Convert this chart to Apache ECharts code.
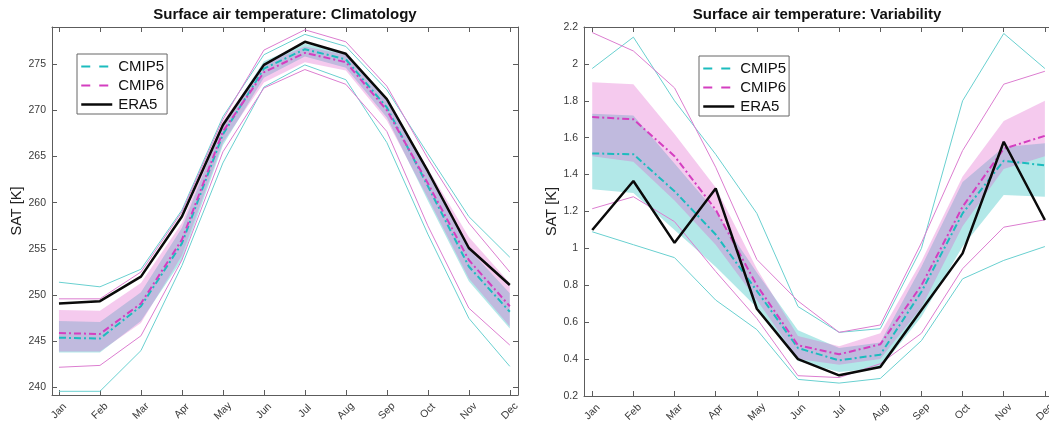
<!DOCTYPE html>
<html>
<head>
<meta charset="utf-8">
<script src="https://cdn.jsdelivr.net/npm/echarts@6/dist/echarts.min.js"></script>
<style>
  html, body { margin: 0; background: #fff; }
  #chart { width: 1049px; height: 425px; }
</style>
</head>
<body>
<div id="chart"></div>
<script>
// month labels and positions (1..12)
const months = ['Jan', 'Feb', 'Mar', 'Apr', 'May', 'Jun', 'Jul', 'Aug', 'Sep', 'Oct', 'Nov', 'Dec'];
const monthPos = [1, 2, 3, 4, 5, 6, 7, 8, 9, 10, 11, 12];
const climTicks = [240, 245, 250, 255, 260, 265, 270, 275];

// Climatology [K]
const era5Clim = [249.1, 249.35, 252.0, 258.5, 268.4, 274.9, 277.4, 276.1, 271.2, 263.4, 255.1, 251.1];
const cmip5ClimMean = [245.4, 245.3, 248.8, 255.6, 267.4, 274.5, 276.6, 275.5, 270.3, 261.8, 253.1, 248.2];
const cmip6ClimMean = [245.9, 245.8, 249.1, 256.0, 267.7, 274.1, 276.2, 275.2, 270.0, 262.1, 253.8, 248.8];
const cmip5ClimLo = [243.8, 243.8, 247.2, 253.8, 266.2, 273.5, 275.8, 274.6, 269.2, 260.2, 251.5, 246.4];
const cmip5ClimHi = [247.2, 247.1, 250.3, 257.3, 268.5, 275.3, 277.2, 276.2, 271.2, 263.2, 255.0, 250.2];
const cmip6ClimLo = [243.9, 243.9, 247.0, 254.3, 266.5, 273.0, 275.2, 274.3, 268.9, 260.5, 251.8, 246.6];
const cmip6ClimHi = [248.4, 248.3, 251.3, 257.8, 268.8, 275.0, 276.9, 276.0, 271.3, 263.7, 256.3, 251.3];
const cmip5ClimMax = [251.4, 250.9, 252.8, 259.2, 269.3, 276.0, 278.2, 276.9, 272.2, 265.3, 258.5, 254.1];
const cmip5ClimMin = [239.6, 239.6, 244.0, 253.2, 264.3, 272.5, 274.9, 273.3, 266.5, 256.6, 247.5, 242.3];
const cmip6ClimMax = [249.6, 249.6, 252.5, 259.0, 269.0, 276.5, 278.7, 277.4, 272.6, 264.8, 257.8, 252.5];
const cmip6ClimMin = [242.2, 242.4, 245.6, 253.8, 265.5, 272.4, 274.4, 272.8, 267.7, 257.5, 248.6, 244.6];

// Variability [K]
const era5Var = [1.10, 1.365, 1.03, 1.325, 0.673, 0.40, 0.312, 0.357, 0.666, 0.973, 1.578, 1.154];
const cmip5VarMean = [1.515, 1.51, 1.31, 1.075, 0.77, 0.46, 0.393, 0.424, 0.765, 1.19, 1.475, 1.45];
const cmip6VarMean = [1.712, 1.70, 1.50, 1.21, 0.80, 0.475, 0.426, 0.48, 0.80, 1.226, 1.54, 1.61];
const cmip5VarLo = [1.32, 1.30, 1.10, 0.90, 0.68, 0.39, 0.33, 0.35, 0.63, 1.01, 1.29, 1.28];
const cmip5VarHi = [1.73, 1.72, 1.46, 1.20, 0.87, 0.556, 0.46, 0.49, 0.90, 1.36, 1.55, 1.57];
const cmip6VarLo = [1.50, 1.47, 1.26, 1.02, 0.72, 0.40, 0.37, 0.40, 0.68, 1.12, 1.43, 1.50];
const cmip6VarHi = [1.90, 1.89, 1.62, 1.33, 0.89, 0.525, 0.47, 0.54, 0.93, 1.39, 1.69, 1.80];
const cmip5VarMax = [1.975, 2.145, 1.80, 1.51, 1.19, 0.685, 0.545, 0.565, 1.00, 1.80, 2.165, 1.975];
const cmip5VarMin = [1.09, 1.02, 0.95, 0.72, 0.56, 0.29, 0.27, 0.295, 0.50, 0.835, 0.935, 1.01];
const cmip6VarMax = [2.17, 2.07, 1.87, 1.44, 0.94, 0.715, 0.545, 0.585, 1.03, 1.53, 1.89, 1.96];
const cmip6VarMin = [1.215, 1.28, 1.145, 0.875, 0.62, 0.31, 0.30, 0.375, 0.54, 0.89, 1.115, 1.155];

const C5 = 'rgb(28,188,190)';
const C6 = 'rgb(212,62,192)';
const C5thin = 'rgb(105,208,208)';
const C6thin = 'rgb(220,125,208)';
const C5band = 'rgba(0,180,180,0.3)';
const C6band = 'rgba(222,80,200,0.3)';
const axisCol = '#5c5c5c';
const font = 'Liberation Sans';

const pairs = vals => vals.map((v, i) => [monthPos[i], v]);

function band(name, xi, lo, hi, color) {
  return {
    type: 'custom', name, xAxisIndex: xi, yAxisIndex: xi, silent: true,
    data: lo.map((v, i) => [monthPos[i], v, hi[i]]),
    encode: { x: 0, y: [1, 2] },
    renderItem: (params, api) => {
      if (params.dataIndexInside !== 0) return null;
      const top = [], bot = [];
      for (let i = 0; i < params.dataInsideLength; i++) {
        top.push(api.coord([api.value(0, i), api.value(2, i)]));
        bot.push(api.coord([api.value(0, i), api.value(1, i)]));
      }
      return { type: 'polygon', shape: { points: top.concat(bot.reverse()) }, style: { fill: color } };
    },
    z: 1
  };
}

function line(name, xi, vals, color, width, type, z) {
  return {
    type: 'line', name, xAxisIndex: xi, yAxisIndex: xi, data: pairs(vals),
    symbol: 'none', silent: true, animation: false,
    lineStyle: { color, width, type }, itemStyle: { color }, z
  };
}

function xAxes(grid, min, max) {
  const base = {
    gridIndex: grid, type: 'value', min, max,
    splitLine: { show: false },
    axisLine: { lineStyle: { color: axisCol, width: 1 } },
    axisTick: { inside: true, length: 5, customValues: monthPos, lineStyle: { color: axisCol } }
  };
  return [
    Object.assign({}, base, {
      position: 'bottom',
      axisLabel: {
        customValues: monthPos, formatter: v => months[Math.round(v) - 1],
        rotate: 45, align: 'center', verticalAlign: 'middle', margin: 16,
        fontSize: 10.5, color: '#3a3a3a', fontFamily: font
      }
    }),
    Object.assign({}, base, { position: 'top', axisLabel: { show: false } })
  ];
}

function yAxes(grid, range, nameGap) {
  const base = {
    gridIndex: grid, type: 'value', min: range[0], max: range[1],
    splitLine: { show: false },
    axisLine: { show: true, lineStyle: { color: axisCol, width: 1 } },
    axisTick: { inside: true, length: 5, lineStyle: { color: axisCol } }
  };
  return [
    Object.assign({}, base, {
      position: 'left', name: 'SAT [K]', nameLocation: 'middle', nameGap,
      nameTextStyle: { fontSize: 14.5, color: '#222', fontFamily: font },
      axisLabel: { margin: 6, fontSize: 10.5, color: '#3a3a3a', fontFamily: font }
    }),
    Object.assign({}, base, { position: 'right', axisLabel: { show: false } })
  ];
}

function legendAt(left, top) {
  const noMark = { opacity: 0 };
  return {
    orient: 'vertical', left, top, selectedMode: false,
    backgroundColor: '#fff', borderColor: '#666', borderWidth: 1, borderRadius: 0,
    padding: [5, 3, 2, 3], itemWidth: 31, itemHeight: 14, itemGap: 4,
    textStyle: { fontSize: 15, color: '#111', fontFamily: font, padding: [0, 0, 0, 1] },
    data: [
      { name: 'CMIP5', itemStyle: noMark, lineStyle: { type: [9, 9], width: 2 } },
      { name: 'CMIP6', itemStyle: noMark, lineStyle: { type: [9, 9], width: 2 } },
      { name: 'ERA5', itemStyle: noMark, lineStyle: { type: 'solid', width: 2.5 } }
    ]
  };
}

function panel(xi, era5, m5, m6, lo5, hi5, lo6, hi6, max5, min5, max6, min6) {
  const dashDot = [7, 3, 2, 3];
  return [
    band('band5', xi, lo5, hi5, C5band),
    band('band6', xi, lo6, hi6, C6band),
    line('max5', xi, max5, C5thin, 1, 'solid', 2),
    line('min5', xi, min5, C5thin, 1, 'solid', 2),
    line('max6', xi, max6, C6thin, 1, 'solid', 2),
    line('min6', xi, min6, C6thin, 1, 'solid', 2),
    line('CMIP5', xi, m5, C5, 2, dashDot, 3),
    line('CMIP6', xi, m6, C6, 2, dashDot, 4),
    line('ERA5', xi, era5, '#0a0a0a', 2.5, 'solid', 5)
  ];
}

const chart = echarts.init(document.getElementById('chart'));
// outerBoundsMode none: keep the plot boxes where they are even if labels spill over
const grids = [
  { left: 52, top: 27, width: 466, height: 368, outerBoundsMode: 'none' },
  { left: 584, top: 27, width: 465, height: 369, outerBoundsMode: 'none' }
];

const xs = xAxes(0, 0.83, 12.2).concat(xAxes(1, 0.8, 12.1));
const ys = yAxes(0, [239.2, 279], 27).concat(yAxes(1, [0.2, 2.2], 24));
// climatology ticks: fixed values since min is not a multiple of 5
ys[0].axisTick.customValues = climTicks;
ys[0].axisLabel.customValues = climTicks;
ys[1].axisTick.customValues = climTicks;
// variability ticks every 0.2 from 0.2
ys[2].interval = 0.2;
ys[3].interval = 0.2;
// right border of the variability panel falls outside the picture
ys[3].show = false;

const s1 = panel(0, era5Clim, cmip5ClimMean, cmip6ClimMean, cmip5ClimLo, cmip5ClimHi,
  cmip6ClimLo, cmip6ClimHi, cmip5ClimMax, cmip5ClimMin, cmip6ClimMax, cmip6ClimMin);
const s2 = panel(2, era5Var, cmip5VarMean, cmip6VarMean, cmip5VarLo, cmip5VarHi,
  cmip6VarLo, cmip6VarHi, cmip5VarMax, cmip5VarMin, cmip6VarMax, cmip6VarMin);

chart.setOption({
  animation: false,
  grid: grids,
  xAxis: xs,
  yAxis: ys,
  legend: [legendAt(77, 54), legendAt(699, 56)],
  graphic: [
    { type: 'text', x: 285, y: 15, style: { text: 'Surface air temperature: Climatology', textAlign: 'center', textVerticalAlign: 'middle', font: 'bold 15px "Liberation Sans"', fill: '#111' } },
    { type: 'text', x: 817, y: 15, style: { text: 'Surface air temperature: Variability', textAlign: 'center', textVerticalAlign: 'middle', font: 'bold 15px "Liberation Sans"', fill: '#111' } }
  ],
  series: s1.concat(s2)
});
</script>
</body>
</html>
